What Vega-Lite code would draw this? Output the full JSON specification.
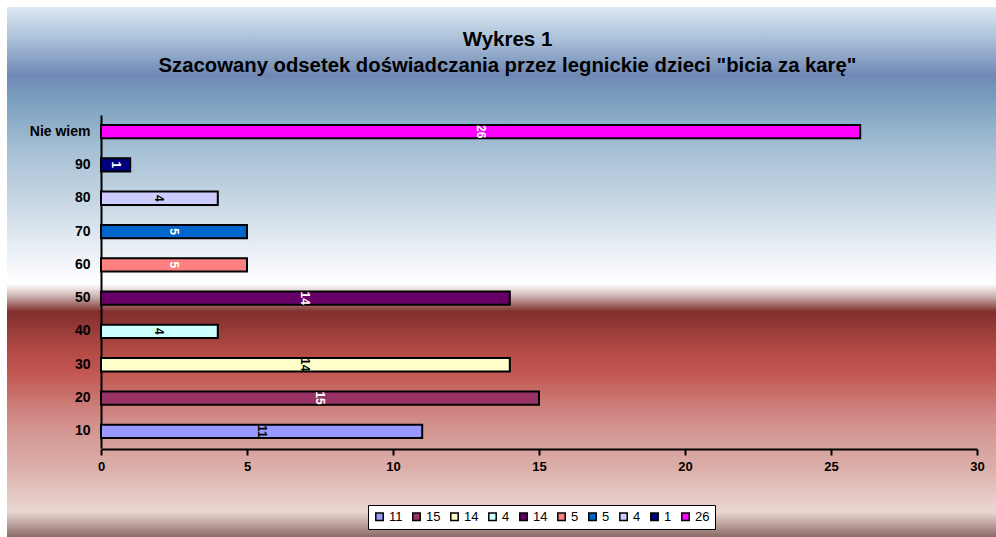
{
  "$schema": "https://vega.github.io/schema/vega-lite/v6.json",
  "autosize": "none",
  "width": 989,
  "height": 530,
  "padding": {"left": 7, "top": 7, "right": 0, "bottom": 0},
  "background": "white",
  "title": {
    "text": "Wykres 1",
    "subtitle": "Szacowany odsetek doświadczania przez legnickie dzieci \"bicia za karę\"",
    "anchor": "middle",
    "offset": -69,
    "dx": 6,
    "font": "Liberation Sans",
    "subtitleFont": "Liberation Sans",
    "fontSize": 20.5,
    "subtitleFontSize": 20.3,
    "fontWeight": "bold",
    "subtitleFontWeight": "bold",
    "color": "black",
    "subtitleColor": "black",
    "subtitlePadding": 5
  },
  "config": {
    "font": "Liberation Sans",
    "view": {
      "stroke": null,
      "fill": {
        "gradient": "linear", "x1": 0, "y1": 0, "x2": 0, "y2": 1,
        "stops": [
          {"offset": 0, "color": "#dde9f3"},
          {"offset": 0.062, "color": "#a9c0d8"},
          {"offset": 0.128, "color": "#6f88b4"},
          {"offset": 0.175, "color": "#7b9fbf"},
          {"offset": 0.27, "color": "#a6c0d5"},
          {"offset": 0.364, "color": "#c6d6e3"},
          {"offset": 0.44, "color": "#e3ebf2"},
          {"offset": 0.492, "color": "#f5f7fb"},
          {"offset": 0.523, "color": "#ffffff"},
          {"offset": 0.547, "color": "#c8aeab"},
          {"offset": 0.575, "color": "#802e2c"},
          {"offset": 0.615, "color": "#9c3e3b"},
          {"offset": 0.653, "color": "#b54b47"},
          {"offset": 0.69, "color": "#c25752"},
          {"offset": 0.728, "color": "#c86d68"},
          {"offset": 0.766, "color": "#d08682"},
          {"offset": 0.817, "color": "#d69d98"},
          {"offset": 0.874, "color": "#ddb0ab"},
          {"offset": 0.93, "color": "#e6cdc8"},
          {"offset": 0.953, "color": "#e9d7d2"},
          {"offset": 1, "color": "#8a6a66"}
        ]
      }
    }
  },
  "data": {
    "values": [
      {"kategoria": "10", "odsetek": 11},
      {"kategoria": "20", "odsetek": 15},
      {"kategoria": "30", "odsetek": 14},
      {"kategoria": "40", "odsetek": 4},
      {"kategoria": "50", "odsetek": 14},
      {"kategoria": "60", "odsetek": 5},
      {"kategoria": "70", "odsetek": 5},
      {"kategoria": "80", "odsetek": 4},
      {"kategoria": "90", "odsetek": 1},
      {"kategoria": "Nie wiem", "odsetek": 26}
    ]
  },
  "layer": [
    {
      "mark": {"type": "bar", "stroke": "black", "strokeWidth": 2},
      "encoding": {
        "y": {
          "field": "kategoria", "type": "nominal",
          "sort": ["Nie wiem", "90", "80", "70", "60", "50", "40", "30", "20", "10"],
          "scale": {"range": [108, 441], "paddingInner": 0.6, "paddingOuter": 0.3},
          "axis": {
            "title": null, "orient": "left", "offset": -94,
            "domainColor": "black", "domainWidth": 2, "ticks": false,
            "labelFont": "Liberation Sans", "labelFontWeight": "bold", "labelFontSize": 14,
            "labelColor": "black", "labelPadding": 11, "grid": false
          }
        },
        "x": {
          "field": "odsetek", "type": "quantitative",
          "scale": {"domain": [0, 30], "range": [94, 970], "nice": false},
          "axis": {
            "title": null, "orient": "bottom", "offset": -88,
            "values": [0, 5, 10, 15, 20, 25, 30],
            "tickSize": 6, "tickWidth": 2, "tickColor": "black",
            "domainColor": "black", "domainWidth": 2,
            "labelFont": "Liberation Sans", "labelFontWeight": "bold", "labelFontSize": 13,
            "labelColor": "black", "labelPadding": 5, "grid": false, "labelFlush": false
          }
        },
        "color": {
          "field": "kategoria", "type": "nominal",
          "scale": {
            "domain": ["10", "20", "30", "40", "50", "60", "70", "80", "90", "Nie wiem"],
            "range": ["#9999ff", "#993366", "#ffffcc", "#ccffff", "#660066", "#ff8080", "#0066cc", "#ccccff", "#000080", "#ff00ff"]
          },
          "legend": {
            "title": null, "orient": "none", "legendX": 361, "legendY": 498,
            "direction": "horizontal", "columns": 10,
            "symbolType": "square", "symbolSize": 55,
            "symbolStrokeColor": "black", "symbolStrokeWidth": 1.5,
            "labelFont": "Liberation Sans", "labelFontSize": 13, "labelColor": "black",
            "labelOffset": 3, "columnPadding": 6,
            "labelExpr": "({'10':'11','20':'15','30':'14','40':'4','50':'14','60':'5','70':'5','80':'4','90':'1','Nie wiem':'26'})[datum.label]",
            "fillColor": "white", "strokeColor": "black", "padding": 5
          }
        }
      }
    },
    {
      "mark": {"type": "text", "angle": 90, "fontSize": 12, "fontWeight": "bold", "align": "center", "baseline": "middle", "font": "Liberation Sans"},
      "encoding": {
        "y": {
          "field": "kategoria", "type": "nominal",
          "sort": ["Nie wiem", "90", "80", "70", "60", "50", "40", "30", "20", "10"]
        },
        "x": {
          "field": "odsetek", "type": "quantitative",
          "scale": {"domain": [0, 30], "range": [94, 532], "nice": false},
          "axis": null
        },
        "text": {"field": "odsetek", "type": "quantitative"},
        "color": {
          "condition": {"test": "indexof(['10','30','40','80'], datum.kategoria) >= 0", "value": "black"},
          "value": "white"
        }
      }
    }
  ],
  "resolve": {"scale": {"x": "independent"}}
}
